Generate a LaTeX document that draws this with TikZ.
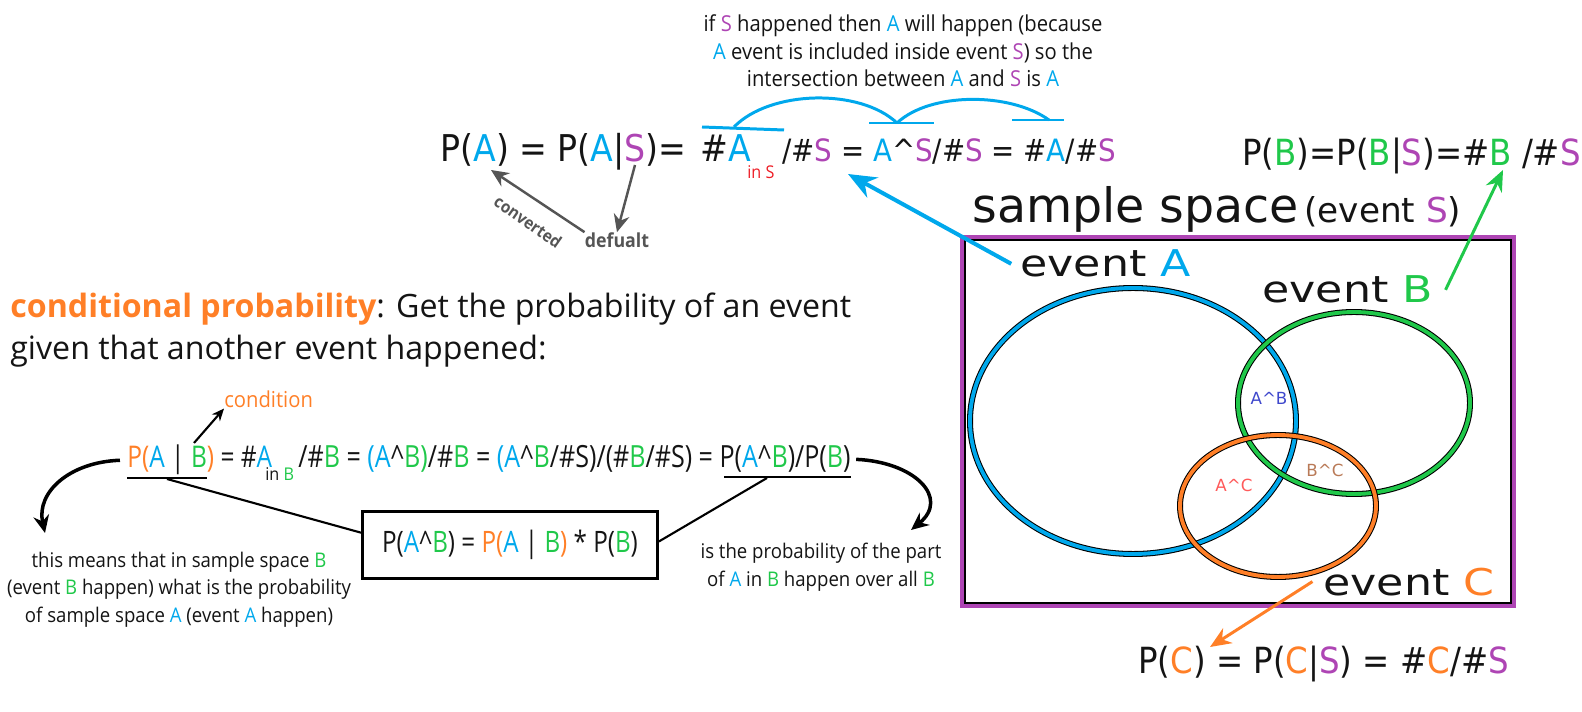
\documentclass[tikz,border=0pt]{standalone}
\usepackage{fontspec}
\setmainfont{Open Sans}
\newfontfamily\notefont{Open Sans}[FakeStretch=0.92]
\newfontfamily\condfont{Open Sans}[FakeStretch=0.82]
\newfontfamily\verdfont{DejaVu Sans}[FakeStretch=0.9]
\newfontfamily\widefont{DejaVu Sans}[FakeStretch=1.2]
\newfontfamily\plainfont{DejaVu Sans}
\usepackage{xcolor}
\usetikzlibrary{arrows.meta, positioning}

\definecolor{colA}{HTML}{00A8EC}
\definecolor{colB}{HTML}{20C84A}
\definecolor{colC}{HTML}{FF7F27}
\definecolor{colS}{HTML}{AE45B4}
\definecolor{colIn}{HTML}{ED1C24}
\definecolor{colGray}{HTML}{555555}
\definecolor{colAB}{HTML}{3F48CC}
\definecolor{colAC}{HTML}{FF5A5A}
\definecolor{colBC}{HTML}{B97A57}
\definecolor{ink}{HTML}{141414}

\newcommand{\evA}[1]{\textcolor{colA}{#1}}
\newcommand{\evB}[1]{\textcolor{colB}{#1}}
\newcommand{\evC}[1]{\textcolor{colC}{#1}}
\newcommand{\evS}[1]{\textcolor{colS}{#1}}
\newcommand{\meet}{\textasciicircum}

\begin{document}
\begin{tikzpicture}[x=0.02cm, y=-0.02cm,
        every node/.style={inner sep=0pt, text=ink},
        note/.style={font=\notefont\fontsize{12.5}{15.8}\selectfont, align=center, anchor=base},
        expl/.style={font=\notefont\fontsize{11.5}{15.6}\selectfont, align=center, anchor=base},
        title/.style={font=\fontsize{18.3}{22}\selectfont, anchor=base west},
        eq/.style={font=\verdfont\fontsize{#1}{#1}\selectfont, anchor=base west},
        eqc/.style={font=\condfont\fontsize{#1}{#1}\selectfont, anchor=base west},
        sub/.style={font=\notefont\fontsize{10}{12}\selectfont, anchor=base west},
        event/.style={font=\widefont\fontsize{#1}{#1}\selectfont, anchor=base west},
        region/.style={font=\plainfont\fontsize{9.5}{11}\selectfont},
        graylbl/.style={font=\notefont\bfseries\fontsize{#1}{#1}\selectfont, text=colGray},
        prodbox/.style={rectangle, draw, line width=1.7pt, minimum width=167.8pt, minimum height=38pt, font=\condfont\fontsize{16.8}{20}\selectfont},
        garrow/.style={draw=colGray, line width=1.4pt, -{Stealth[length=10pt, width=9pt]}},
        karrow/.style={line width=1.2pt, -{Stealth[length=7pt, width=6pt]}},
        carrow/.style={line width=2pt, -{Stealth[length=10pt, width=9pt]}},
        link/.style={line width=1.2pt},
        over/.style={draw=colA, line width=1.7pt},
        venn/.style={line width=#1}
        ]
        \useasboundingbox (0,0) rectangle (1582,712);

        % Top: note and formula for P(A)
        \node (note) [note] at (903,87) {if \evS{S} happened then \evA{A} will happen (because\\
            \evA{A} event is included inside event \evS{S}) so the\\
            intersection between \evA{A} and \evS{S} is \evA{A}};
        \node (pA) [eq=21] at (440,162) {P(\evA{A}) = P(\evA{A}|\evS{S})=};
        \node (hA) [eq=21] at (700,162) {\#\evA{A}};
        \node (inS) [sub] at (747,179) {\textcolor{colIn}{in S}};
        \node (rA) [eq=17.5] at (782,162) {/\#\evS{S} = \evA{A}\meet\evS{S}/\#\evS{S} = \#\evA{A}/\#\evS{S}};

        \coordinate (o1a) at (702,127); \coordinate (o1b) at (784,130);
        \coordinate (o2a) at (869,123); \coordinate (o2b) at (934,123);
        \coordinate (o3a) at (1012,120); \coordinate (o3b) at (1064,120);
        \draw [over] (o1a) -- (o1b);
        \draw [over] (o2a) -- (o2b);
        \draw [over] (o3a) -- (o3b);
        \draw [over] (734,127) .. controls (770,90) and (860,88) .. (897,123);
        \draw [over] (897,123) .. controls (930,92) and (1010,92) .. (1049,120);

        \node (dft) [graylbl=11] at (617,240) {defualt};
        \node (cvt) [graylbl=9.5, rotate=-35] at (528,222) {converted};
        \coordinate (tipPA) at (491,170);
        \coordinate (barS) at (635,165);
        \draw [garrow] (dft.north west) -- (tipPA);
        \draw [garrow] (barS) -- (dft.north);

        % Right: sample space with events A, B, C
        \node (pB) [eq=20.5] at (1242,166) {P(\evB{B})=P(\evB{B}|\evS{S})=\#\evB{B} /\#\evS{S}};
        \node (ss) [font=\plainfont\fontsize{27}{29}\selectfont, anchor=base west] at (972,223) {sample space};
        \node (sse) [font=\plainfont\fontsize{19.5}{21}\selectfont, anchor=base west] at (1304,223) {(event \evS{S})};

        \draw [line width=1.4pt] (964.5,239.5) rectangle (1511.5,603.5);
        \draw [draw=colS, line width=2.8pt] (962,237) rectangle (1514,606);

        \draw [venn=3.4pt] (1133,421) ellipse [x radius=163, y radius=133];
        \draw [venn=2.2pt, colA] (1133,421) ellipse [x radius=163, y radius=133];
        \draw [venn=3.4pt] (1354,403) ellipse [x radius=116, y radius=91];
        \draw [venn=2.2pt, colB] (1354,403) ellipse [x radius=116, y radius=91];
        \draw [venn=3.4pt] (1278,506) ellipse [x radius=98, y radius=71];
        \draw [venn=2.2pt, colC] (1278,506) ellipse [x radius=98, y radius=71];

        \node (ab) [region, text=colAB] at (1269,398) {A\meet B};
        \node (ac) [region, text=colAC] at (1234,485) {A\meet C};
        \node (bc) [region, text=colBC] at (1325,470) {B\meet C};

        \node (evA) [event=21] at (1020,277) {event \evA{A}};
        \node (evB) [event=21] at (1262,303) {event \evB{B}};
        \node (evC) [event=21] at (1323,595) {event \evC{C}};

        \node (pC) [eq=20.5] at (1138,673) {P(\evC{C}) = P(\evC{C}|\evS{S}) = \#\evC{C}/\#\evS{S}};

        \coordinate (tipS) at (848,174);
        \coordinate (tipB) at (1503,170);
        \coordinate (tipC) at (1210,647);
        \draw [draw=colA, line width=2.3pt, -{Stealth[length=16pt, width=13pt]}] ([xshift=-5pt]evA.west) -- (tipS);
        \draw [draw=colB, line width=1.7pt, -{Stealth[length=12pt, width=10pt]}] ([xshift=7pt]evB.east) -- (tipB);
        \draw [draw=colC, line width=1.7pt, -{Stealth[length=12pt, width=10pt]}] ([xshift=-6pt]evC.west) -- (tipC);

        % Left: conditional probability
        \node (title1) [title] at (10,318) {{\bfseries\textcolor{colC}{conditional probability}}: Get the probability of an event};
        \node (title2) [title] at (10,360) {given that another event happened:};

        \node (cond) [sub, font=\notefont\fontsize{12.5}{14}\selectfont, text=colC] at (224,408) {condition};
        \node (mA) [eqc=17] at (127,468) {\evC{P(}\evA{A} | \evB{B}\evC{)} = \#\evA{A}};
        \node (inB) [sub] at (265,481) {in \evB{B}};
        \node (mB) [eqc=17.4] at (298,468) {/\#\evB{B} = \evA{(A}\meet\evB{B)}/\#\evB{B} = \evA{(A}\meet\evB{B}/\#S)/(\#\evB{B}/\#S) = P(\evA{A}\meet\evB{B})/P(\evB{B})};

        \coordinate (condfoot) at (194,443);
        \draw [karrow] (condfoot) -- (cond.south west);

        \coordinate (ulL) at (167,479);
        \coordinate (ulR) at (767,478);
        \draw [link] (127,478) -- (207,478);
        \draw [link] (724,477) -- (851,477);

        \node (prod) [prodbox] at (510,545) {P(\evA{A}\meet\evB{B}) = \evC{P(}\evA{A} | \evB{B}\evC{)} * P(\evB{B})};
        \draw [link] (ulL) -- ([yshift=7pt]prod.west);
        \draw [link] (ulR) -- ([yshift=2pt]prod.east);

        \node (lnote) [expl] at (179,622) {this means that in sample space \evB{B}\\
            (event \evB{B} happen) what is the probability\\
            of sample space \evA{A} (event \evA{A} happen)};
        \node (rnote) [expl] at (821,586) {is the probability of the part\\
            of \evA{A} in \evB{B} happen over all \evB{B}};

        \coordinate (tipL) at (45,533);
        \coordinate (tipR) at (911,530);
        \draw [carrow] ([xshift=-4pt]mA.west) .. controls (70,462) and (36,492) .. (tipL);
        \draw [carrow] ([xshift=3pt]mB.east) .. controls (915,462) and (950,498) .. (tipR);

\end{tikzpicture}
\end{document}
